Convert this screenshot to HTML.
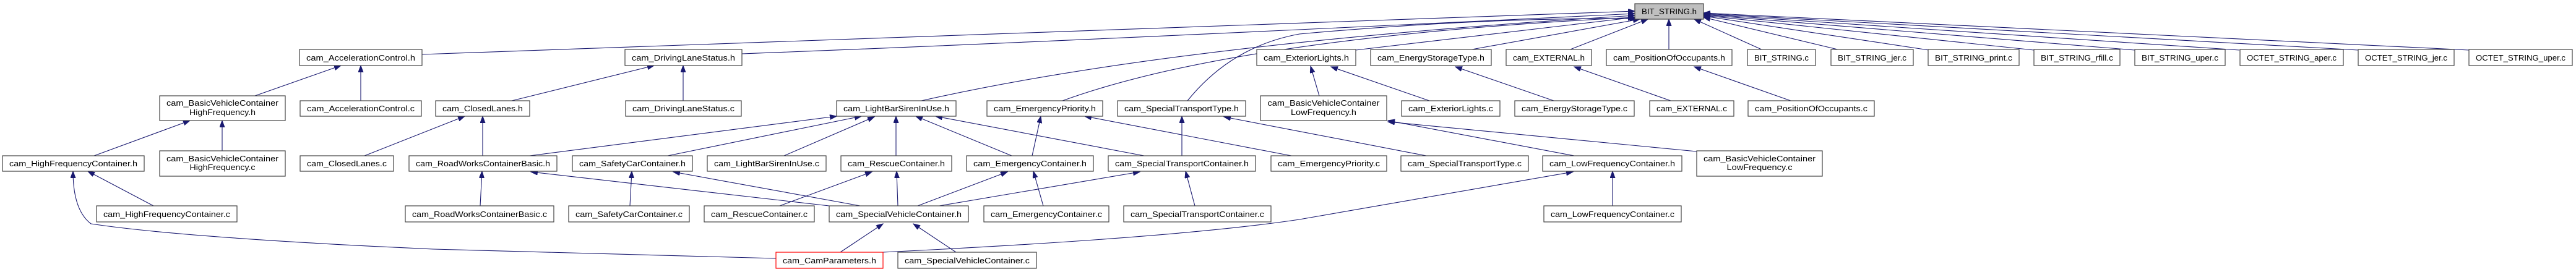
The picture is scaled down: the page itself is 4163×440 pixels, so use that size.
<!DOCTYPE html>
<html><head><meta charset="utf-8"><style>
html,body{margin:0;padding:0;background:#fff}
svg{display:block}
text{font-family:"Liberation Sans",sans-serif;font-size:13px;fill:#000}
.n{fill:#fff;stroke:#444;stroke-width:1.2}
.e{fill:none;stroke:#191970;stroke-width:1.1}
</style></head><body>
<svg width="4163" height="440" viewBox="0 0 4163 440" xmlns="http://www.w3.org/2000/svg">
<defs><marker id="a" markerUnits="userSpaceOnUse" markerWidth="12" markerHeight="10" refX="11" refY="4" orient="auto"><path d="M0,0 L11,4 L0,8 z" fill="#191970" stroke="#191970"/></marker></defs>
<g class="edges">
<path class="e" marker-end="url(#a)" d="M682,88 Q1400,62 2642,18"/>
<path class="e" marker-end="url(#a)" d="M1199,87 Q1700,68 2642,22"/>
<path class="e" marker-end="url(#a)" d="M1489,163 Q1900,70 2642,25"/>
<path class="e" marker-end="url(#a)" d="M1717,163 Q2000,60 2642,28"/>
<path class="e" marker-end="url(#a)" d="M1919,163 Q1990,75 2100,55 Q2400,28 2645,30"/>
<path class="e" marker-end="url(#a)" d="M2191,81 L2642,28"/>
<path class="e" marker-end="url(#a)" d="M2373,81 L2650,31"/>
<path class="e" marker-end="url(#a)" d="M2535,81 L2663,31"/>
<path class="e" marker-end="url(#a)" d="M2697,81 L2697,31"/>
<path class="e" marker-end="url(#a)" d="M2849,81 L2738,31"/>
<path class="e" marker-end="url(#a)" d="M2974,81 L2753,28"/>
<path class="e" marker-end="url(#a)" d="M3117,81 L2753,26"/>
<path class="e" marker-end="url(#a)" d="M3287,81 L2753,25"/>
<path class="e" marker-end="url(#a)" d="M3450,81 L2753,24"/>
<path class="e" marker-end="url(#a)" d="M3619,81 L2753,23"/>
<path class="e" marker-end="url(#a)" d="M3811,81 L2753,22"/>
<path class="e" marker-end="url(#a)" d="M3990,81 L2753,21"/>
<path class="e" marker-end="url(#a)" d="M412,155 L551,106"/>
<path class="e" marker-end="url(#a)" d="M583,163 L583,106"/>
<path class="e" marker-end="url(#a)" d="M152,252 L307,195"/>
<path class="e" marker-end="url(#a)" d="M359,244 L359,195"/>
<path class="e" marker-end="url(#a)" d="M248,333 L142,277"/>
<path class="e" marker-end="url(#a)" d="M1254,418 L700,403 Q300,385 147,362 Q118,340 118,277"/>
<path class="e" marker-end="url(#a)" d="M589,252 L751,188"/>
<path class="e" marker-end="url(#a)" d="M827,163 L1057,106"/>
<path class="e" marker-end="url(#a)" d="M1104,163 L1104,106"/>
<path class="e" marker-end="url(#a)" d="M780,252 L780,188"/>
<path class="e" marker-end="url(#a)" d="M856,252 L1352,188"/>
<path class="e" marker-end="url(#a)" d="M1079,252 L1392,188"/>
<path class="e" marker-end="url(#a)" d="M1267,252 L1413,189"/>
<path class="e" marker-end="url(#a)" d="M1448,252 L1448,188"/>
<path class="e" marker-end="url(#a)" d="M1635,252 L1480,188"/>
<path class="e" marker-end="url(#a)" d="M1849,252 L1512,188"/>
<path class="e" marker-end="url(#a)" d="M776,333 L779,277"/>
<path class="e" marker-end="url(#a)" d="M1340,333 L858,278"/>
<path class="e" marker-end="url(#a)" d="M1018,333 L1021,277"/>
<path class="e" marker-end="url(#a)" d="M1390,333 L1088,278"/>
<path class="e" marker-end="url(#a)" d="M1260,333 L1409,278"/>
<path class="e" marker-end="url(#a)" d="M1451,333 L1449,277"/>
<path class="e" marker-end="url(#a)" d="M1483,333 L1628,278"/>
<path class="e" marker-end="url(#a)" d="M1518,333 L1842,278"/>
<path class="e" marker-end="url(#a)" d="M1668,252 L1682,188"/>
<path class="e" marker-end="url(#a)" d="M1686,333 L1670,277"/>
<path class="e" marker-end="url(#a)" d="M1910,252 L1910,188"/>
<path class="e" marker-end="url(#a)" d="M1931,333 L1916,277"/>
<path class="e" marker-end="url(#a)" d="M1358,408 L1427,362"/>
<path class="e" marker-end="url(#a)" d="M1545,408 L1476,362"/>
<path class="e" marker-end="url(#a)" d="M1427,408 Q1900,385 2100,355 Q2300,320 2542,278"/>
<path class="e" marker-end="url(#a)" d="M2087,252 L1753,188"/>
<path class="e" marker-end="url(#a)" d="M2305,252 L1978,189"/>
<path class="e" marker-end="url(#a)" d="M2132,155 L2118,107"/>
<path class="e" marker-end="url(#a)" d="M2310,163 L2151,108"/>
<path class="e" marker-end="url(#a)" d="M2511,163 L2352,108"/>
<path class="e" marker-end="url(#a)" d="M2700,163 L2544,108"/>
<path class="e" marker-end="url(#a)" d="M2894,163 L2738,108"/>
<path class="e" marker-end="url(#a)" d="M2544,252 L2243,195"/>
<path class="e" marker-end="url(#a)" d="M2742,245 L2243,197"/>
<path class="e" marker-end="url(#a)" d="M2606,333 L2606,277"/>
</g>
<g class="nodes" text-anchor="middle">
<rect x="2642" y="6" width="111" height="25" fill="#bfbfbf" stroke="#444" stroke-width="1.2"/><text x="2697.5" y="23" textLength="89" lengthAdjust="spacingAndGlyphs">BIT_STRING.h</text>

<rect class="n" x="484" y="80" width="198" height="26"/><text x="583" y="98" textLength="176" lengthAdjust="spacingAndGlyphs">cam_AccelerationControl.h</text>
<rect class="n" x="1010" y="80" width="189" height="26"/><text x="1104.5" y="98" textLength="167" lengthAdjust="spacingAndGlyphs">cam_DrivingLaneStatus.h</text>
<rect class="n" x="2031" y="80" width="160" height="26"/><text x="2111" y="98" textLength="138" lengthAdjust="spacingAndGlyphs">cam_ExteriorLights.h</text>
<rect class="n" x="2215" y="80" width="195" height="26"/><text x="2312.5" y="98" textLength="173" lengthAdjust="spacingAndGlyphs">cam_EnergyStorageType.h</text>
<rect class="n" x="2434" y="80" width="138" height="26"/><text x="2503" y="98" textLength="116" lengthAdjust="spacingAndGlyphs">cam_EXTERNAL.h</text>
<rect class="n" x="2596" y="80" width="203" height="26"/><text x="2697.5" y="98" textLength="181" lengthAdjust="spacingAndGlyphs">cam_PositionOfOccupants.h</text>
<rect class="n" x="2824" y="80" width="110" height="26"/><text x="2879" y="98" textLength="88" lengthAdjust="spacingAndGlyphs">BIT_STRING.c</text>
<rect class="n" x="2959" y="80" width="133" height="26"/><text x="3025.5" y="98" textLength="111" lengthAdjust="spacingAndGlyphs">BIT_STRING_jer.c</text>
<rect class="n" x="3116" y="80" width="147" height="26"/><text x="3189.5" y="98" textLength="125" lengthAdjust="spacingAndGlyphs">BIT_STRING_print.c</text>
<rect class="n" x="3287" y="80" width="139" height="26"/><text x="3356.5" y="98" textLength="117" lengthAdjust="spacingAndGlyphs">BIT_STRING_rfill.c</text>
<rect class="n" x="3450" y="80" width="146" height="26"/><text x="3523" y="98" textLength="124" lengthAdjust="spacingAndGlyphs">BIT_STRING_uper.c</text>
<rect class="n" x="3620" y="80" width="167" height="26"/><text x="3703.5" y="98" textLength="145" lengthAdjust="spacingAndGlyphs">OCTET_STRING_aper.c</text>
<rect class="n" x="3811" y="80" width="155" height="26"/><text x="3888.5" y="98" textLength="133" lengthAdjust="spacingAndGlyphs">OCTET_STRING_jer.c</text>
<rect class="n" x="3990" y="80" width="167" height="26"/><text x="4073.5" y="98" textLength="145" lengthAdjust="spacingAndGlyphs">OCTET_STRING_uper.c</text>

<rect class="n" x="485" y="163" width="196" height="25"/><text x="583" y="180" textLength="174" lengthAdjust="spacingAndGlyphs">cam_AccelerationControl.c</text>
<rect class="n" x="704" y="163" width="152" height="25"/><text x="780" y="180" textLength="130" lengthAdjust="spacingAndGlyphs">cam_ClosedLanes.h</text>
<rect class="n" x="1011" y="163" width="187" height="25"/><text x="1104.5" y="180" textLength="165" lengthAdjust="spacingAndGlyphs">cam_DrivingLaneStatus.c</text>
<rect class="n" x="1352" y="163" width="193" height="25"/><text x="1448.5" y="180" textLength="171" lengthAdjust="spacingAndGlyphs">cam_LightBarSirenInUse.h</text>
<rect class="n" x="1595" y="163" width="187" height="25"/><text x="1688.5" y="180" textLength="165" lengthAdjust="spacingAndGlyphs">cam_EmergencyPriority.h</text>
<rect class="n" x="1806" y="163" width="207" height="25"/><text x="1909.5" y="180" textLength="185" lengthAdjust="spacingAndGlyphs">cam_SpecialTransportType.h</text>
<rect class="n" x="2265" y="163" width="159" height="25"/><text x="2344.5" y="180" textLength="137" lengthAdjust="spacingAndGlyphs">cam_ExteriorLights.c</text>
<rect class="n" x="2448" y="163" width="193" height="25"/><text x="2544.5" y="180" textLength="171" lengthAdjust="spacingAndGlyphs">cam_EnergyStorageType.c</text>
<rect class="n" x="2666" y="163" width="136" height="25"/><text x="2734" y="180" textLength="114" lengthAdjust="spacingAndGlyphs">cam_EXTERNAL.c</text>
<rect class="n" x="2825" y="163" width="204" height="25"/><text x="2927" y="180" textLength="182" lengthAdjust="spacingAndGlyphs">cam_PositionOfOccupants.c</text>

<rect class="n" x="258" y="155" width="203" height="40"/><text x="359.5" y="171" textLength="181" lengthAdjust="spacingAndGlyphs">cam_BasicVehicleContainer</text><text x="359.5" y="186" textLength="107" lengthAdjust="spacingAndGlyphs">HighFrequency.h</text>
<rect class="n" x="2037" y="155" width="204" height="40"/><text x="2139" y="171" textLength="181" lengthAdjust="spacingAndGlyphs">cam_BasicVehicleContainer</text><text x="2139" y="186" textLength="106" lengthAdjust="spacingAndGlyphs">LowFrequency.h</text>

<rect class="n" x="4" y="252" width="229" height="25"/><text x="118.5" y="269" textLength="207" lengthAdjust="spacingAndGlyphs">cam_HighFrequencyContainer.h</text>
<rect class="n" x="485" y="252" width="151" height="25"/><text x="560.5" y="269" textLength="129" lengthAdjust="spacingAndGlyphs">cam_ClosedLanes.c</text>
<rect class="n" x="661" y="252" width="239" height="25"/><text x="780.5" y="269" textLength="217" lengthAdjust="spacingAndGlyphs">cam_RoadWorksContainerBasic.h</text>
<rect class="n" x="925" y="252" width="194" height="25"/><text x="1022" y="269" textLength="172" lengthAdjust="spacingAndGlyphs">cam_SafetyCarContainer.h</text>
<rect class="n" x="1143" y="252" width="192" height="25"/><text x="1239" y="269" textLength="170" lengthAdjust="spacingAndGlyphs">cam_LightBarSirenInUse.c</text>
<rect class="n" x="1359" y="252" width="179" height="25"/><text x="1448.5" y="269" textLength="157" lengthAdjust="spacingAndGlyphs">cam_RescueContainer.h</text>
<rect class="n" x="1562" y="252" width="205" height="25"/><text x="1664.5" y="269" textLength="183" lengthAdjust="spacingAndGlyphs">cam_EmergencyContainer.h</text>
<rect class="n" x="1791" y="252" width="238" height="25"/><text x="1910" y="269" textLength="216" lengthAdjust="spacingAndGlyphs">cam_SpecialTransportContainer.h</text>
<rect class="n" x="2054" y="252" width="187" height="25"/><text x="2147.5" y="269" textLength="165" lengthAdjust="spacingAndGlyphs">cam_EmergencyPriority.c</text>
<rect class="n" x="2264" y="252" width="206" height="25"/><text x="2367" y="269" textLength="184" lengthAdjust="spacingAndGlyphs">cam_SpecialTransportType.c</text>
<rect class="n" x="2493" y="252" width="225" height="25"/><text x="2605.5" y="269" textLength="203" lengthAdjust="spacingAndGlyphs">cam_LowFrequencyContainer.h</text>

<rect class="n" x="258" y="244" width="203" height="41"/><text x="359.5" y="261" textLength="181" lengthAdjust="spacingAndGlyphs">cam_BasicVehicleContainer</text><text x="359.5" y="275" textLength="106" lengthAdjust="spacingAndGlyphs">HighFrequency.c</text>
<rect class="n" x="2742" y="244" width="203" height="41"/><text x="2843.5" y="261" textLength="181" lengthAdjust="spacingAndGlyphs">cam_BasicVehicleContainer</text><text x="2843.5" y="275" textLength="106" lengthAdjust="spacingAndGlyphs">LowFrequency.c</text>

<rect class="n" x="156" y="333" width="227" height="26"/><text x="269.5" y="351" textLength="205" lengthAdjust="spacingAndGlyphs">cam_HighFrequencyContainer.c</text>
<rect class="n" x="655" y="333" width="240" height="26"/><text x="775" y="351" textLength="218" lengthAdjust="spacingAndGlyphs">cam_RoadWorksContainerBasic.c</text>
<rect class="n" x="919" y="333" width="195" height="26"/><text x="1016.5" y="351" textLength="173" lengthAdjust="spacingAndGlyphs">cam_SafetyCarContainer.c</text>
<rect class="n" x="1138" y="333" width="178" height="26"/><text x="1227" y="351" textLength="156" lengthAdjust="spacingAndGlyphs">cam_RescueContainer.c</text>
<rect class="n" x="1340" y="333" width="225" height="26"/><text x="1452.5" y="351" textLength="203" lengthAdjust="spacingAndGlyphs">cam_SpecialVehicleContainer.h</text>
<rect class="n" x="1590" y="333" width="202" height="26"/><text x="1691" y="351" textLength="180" lengthAdjust="spacingAndGlyphs">cam_EmergencyContainer.c</text>
<rect class="n" x="1816" y="333" width="238" height="26"/><text x="1935" y="351" textLength="216" lengthAdjust="spacingAndGlyphs">cam_SpecialTransportContainer.c</text>
<rect class="n" x="2495" y="333" width="222" height="26"/><text x="2606" y="351" textLength="200" lengthAdjust="spacingAndGlyphs">cam_LowFrequencyContainer.c</text>

<rect x="1254" y="408" width="173" height="26" fill="#fff" stroke="#ff0000" stroke-width="1.2"/><text x="1340.5" y="426" textLength="151" lengthAdjust="spacingAndGlyphs">cam_CamParameters.h</text>
<rect class="n" x="1451" y="408" width="224" height="26"/><text x="1563" y="426" textLength="202" lengthAdjust="spacingAndGlyphs">cam_SpecialVehicleContainer.c</text>
</g>
</svg>
</body></html>
